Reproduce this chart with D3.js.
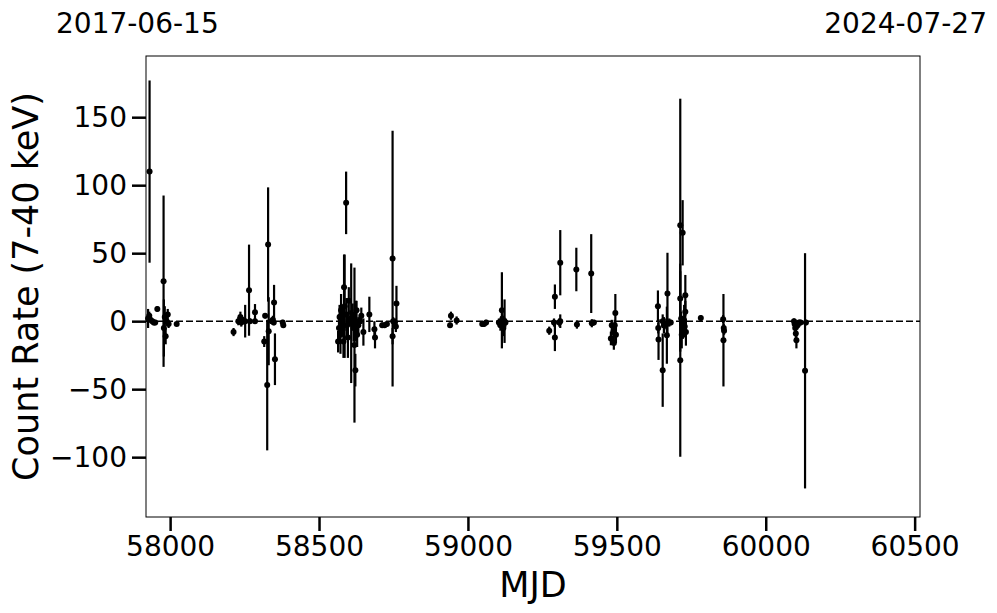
<!DOCTYPE html>
<html><head><meta charset="utf-8">
<script src="https://cdn.jsdelivr.net/npm/d3@7"></script>
<style>body{margin:0;background:#fff}svg{display:block;font-family:"DejaVu Sans",sans-serif}</style>
</head><body>
<svg id="c" width="997" height="613"></svg>
<script>
// Data (MJD, count rate 7-40 keV, 1-sigma error)
const mjd = [
 57926,57930,57934,57940,57945,57950,57931,57957,57978,57979,57982,57985,57988,57992,57995,58022,
 58213,58229,58236,58239,58242,58252,58265,58268,58285,58285,58316,58319,58329,58326,58331,58349,58352,58341,58345,58348,58378,58380,
 58564,58567,58569,58572,58574,58576,58579,58582,58584,58586,58591,58592,58594,58597,58600,58608,58605,58619,58622,58613,58616,58624,58626,58628,58632,58637,58642,58649,
 58669,58686,58688,58712,58720,58728,58747,58747,58749,58760,58758,58755,
 58940,58943,58962,59048,59054,59061,59114,59104,59109,59119,59123,59126,59116,
 59273,59289,59292,59292,59310,59310,59307,59364,59366,59414,59416,59423,
 59495,59483,59493,59488,59480,59490,59497,
 59638,59639,59640,59654,59654,59658,59666,59670,59668,59676,59681,
 59713,59713,59721,59713,59730,59730,59718,59726,59722,59716,59728,59732,59782,
 59858,59857,59859,59860,
 60095,60097,60099,60101,60103,60107,60112,60117,60132,60135
];
const rate = [
 2,4,1,0,-1,-1,110,9,29.4,-5,3,-11,0,5,-2,-2,
 -8,0,3,-1,1,0,22.8,0,6.6,0,-15,4,56.4,-47,-7.4,13.7,-28,0,1,-1,-1,-3,
 -15,-5,3,-10,8,-2,0,-15,25,11,87,5,-3,-12,15,-1.5,2,-17.6,-36,5,-5,0,8,-10,-3,0,4,-8,
 5,-6,-12,-3,-3,-2,46,-11,0,13,-4,-1,
 -3,4,0.5,-2,-2,-1,8,-1,-3,-5,0,-1,2,
 -7,-1,18,-12,43,0,-1,38,-2.5,35,-1.5,-1,
 6,-3,-3,-8,-12.7,-16,-10,
 11,-5,-13.5,-36,0,-3,-2,20.3,-10.3,-1,-1,
 70.6,-28.7,65,16.7,19,7,-10,0,-5,2,-4,-8,2.4,
 -14,1.5,-5,-7,
 0,-2,-5,-9,-14,-3,-1,-1,-36.5,-1
];
const err = [
 7,3,2,2,2,2,67,2,63,21,8,6,3,4,3,1,
 3,3,4,3,2,12,33.5,2,6,2,4,2,42,48,25,13,19,2,3,2,2,2,
 8,10,9,14,12,6,10,12,24,38,23,12,8,15,10,44,6,57,12,8,10,15,7,9,6,4,6,10,
 13,6,8,2,2,2,94,6,3,13,4,3,
 2,3,3,2,2,2,28,3,4,6,16,3,4,
 3,3,9,10,24,5,3,16,3,29,3,2,
 14,4,4,6,5,5,6,
 11.6,4,15,27,5,6,4,30,21,3,2,
 93,71,24,20,15,8,10,12,8,5,6,10,2,
 34,3,3,3,
 2,2,3,4,6,3,2,2,86.5,2
];
const xTicks = [58000,58500,59000,59500,60000,60500];
const yTicks = [-100,-50,0,50,100,150];
const xDomain = [57919, 60518];
const yDomain = [-144, 195];
const dateLabels = ["2017-06-15","2024-07-27"];

const svg = d3.select("#c");
const L=146,T=56,R=920,B=517;
const x = d3.scaleLinear().domain(xDomain).range([L,R]);
const y = d3.scaleLinear().domain(yDomain).range([B,T]);
const fmt = d => (d<0? "\u2212"+Math.abs(d) : String(d));

const g = svg.append("g");
// zero line
g.append("line").attr("x1",L).attr("x2",R).attr("y1",y(0)).attr("y2",y(0))
 .attr("stroke","#000").attr("stroke-width",1.5).attr("stroke-dasharray","7,3");

const pts = mjd.map((m,i)=>({m,r:rate[i],e:err[i]}));
g.selectAll("line.eb").data(pts).join("line").attr("class","eb")
 .attr("x1",d=>x(d.m)).attr("x2",d=>x(d.m))
 .attr("y1",d=>y(d.r-d.e)).attr("y2",d=>y(d.r+d.e))
 .attr("stroke","#000").attr("stroke-width",2.2);
g.selectAll("circle").data(pts).join("circle")
 .attr("cx",d=>x(d.m)).attr("cy",d=>y(d.r)).attr("r",3).attr("fill","#000");

// frame
svg.append("rect").attr("x",L).attr("y",T).attr("width",R-L).attr("height",B-T)
 .attr("fill","none").attr("stroke","#000").attr("stroke-width",1);

const xa = svg.append("g").attr("transform",`translate(0,${B})`)
 .call(d3.axisBottom(x).tickValues(xTicks).tickSize(14).tickPadding(5).tickFormat(d=>String(d)));
const ya = svg.append("g").attr("transform",`translate(${L},0)`)
 .call(d3.axisLeft(y).tickValues(yTicks).tickSize(14).tickPadding(5).tickFormat(fmt));
[xa,ya].forEach(a=>{
 a.select(".domain").remove();
 a.selectAll(".tick line").attr("stroke","#000").attr("stroke-width",2.5);
 a.selectAll(".tick text").attr("fill","#000").style("font-size","28px").style("font-family","DejaVu Sans");
});

svg.append("text").attr("x",(L+R)/2).attr("y",597).attr("text-anchor","middle")
 .style("font-size","35px").text("MJD");
svg.append("text").attr("transform",`translate(38,${(T+B)/2}) rotate(-90)`).attr("text-anchor","middle")
 .style("font-size","35px").text("Count Rate (7-40 keV)");
svg.append("text").attr("x",56).attr("y",33).style("font-size","28px").text(dateLabels[0]);
svg.append("text").attr("x",987).attr("y",33).attr("text-anchor","end").style("font-size","28px").text(dateLabels[1]);
</script>
</body></html>
